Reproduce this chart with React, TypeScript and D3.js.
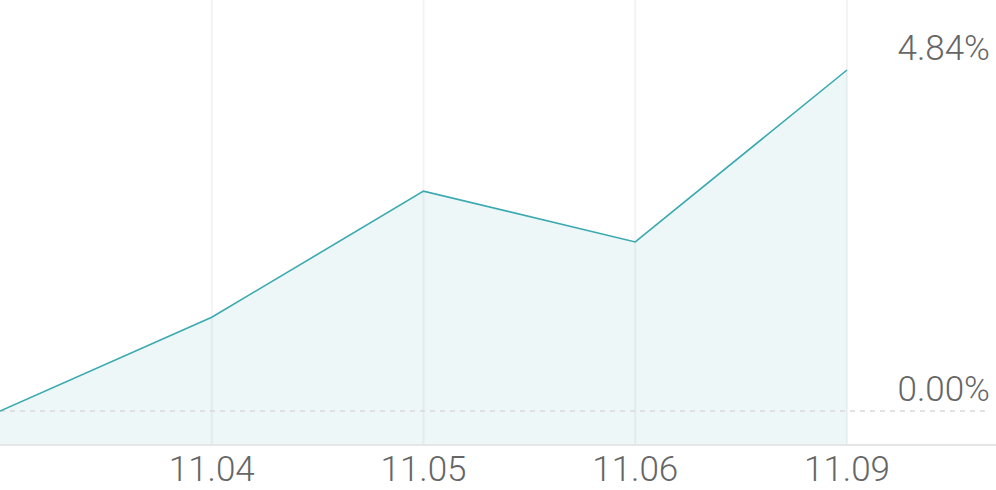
import React from "react";
import * as d3 from "d3";

const dates = ["11.03", "11.04", "11.05", "11.06", "11.09"];
const values = [0, 1.33, 3.12, 2.4, 4.84];
const tickLabels = ["", "11.04", "11.05", "11.06", "11.09"];
const yLabels = [4.84, 0];

const W = 996;
const H = 490;

export default function App() {
  const x = d3.scalePoint<string>().domain(dates).range([0, 847]);
  const y = d3.scaleLinear().domain([0, 4.84]).range([411, 70]);
  const baseY = 445;
  const line = d3
    .line<number>()
    .x((_, i) => x(dates[i]) as number)
    .y((d) => y(d));
  const area = d3
    .area<number>()
    .x((_, i) => x(dates[i]) as number)
    .y0(baseY)
    .y1((d) => y(d));
  const font = "Roboto, 'Noto Sans', sans-serif";
  return (
    <div style={{ position: "fixed", left: 0, top: 0, width: W, height: H, background: "#fff" }}>
      <svg width={W} height={H} style={{ display: "block" }}>
        {dates.slice(1).map((d) => (
          <line
            key={d}
            x1={x(d)}
            x2={x(d)}
            y1={0}
            y2={baseY}
            stroke="#f3f3f3"
            strokeWidth={2}
          />
        ))}
        <path d={area(values) || ""} fill="rgba(58,169,176,0.09)" />
        <line x1={0} x2={990} y1={y(0)} y2={y(0)} stroke="#d9d9d9" strokeWidth={1.6} strokeDasharray="5,5" />
        <line x1={0} x2={W} y1={baseY} y2={baseY} stroke="#e6e6e6" strokeWidth={2} />
        <path d={line(values) || ""} fill="none" stroke="#3aa9b0" strokeWidth={1.6} />
        {yLabels.map((v) => (
          <text
            key={v}
            x={990}
            y={y(v) - 10}
            textAnchor="end"
            fontFamily={font}
            fontWeight={300}
            fontSize={35}
            fill="#666"
          >
            {v.toFixed(2) + "%"}
          </text>
        ))}
        {dates.map((d, i) => (
          <text
            key={d}
            x={x(d)}
            y={481}
            textAnchor="middle"
            fontFamily={font}
            fontWeight={300}
            fontSize={35}
            fill="#666"
          >
            {tickLabels[i]}
          </text>
        ))}
      </svg>
    </div>
  );
}
